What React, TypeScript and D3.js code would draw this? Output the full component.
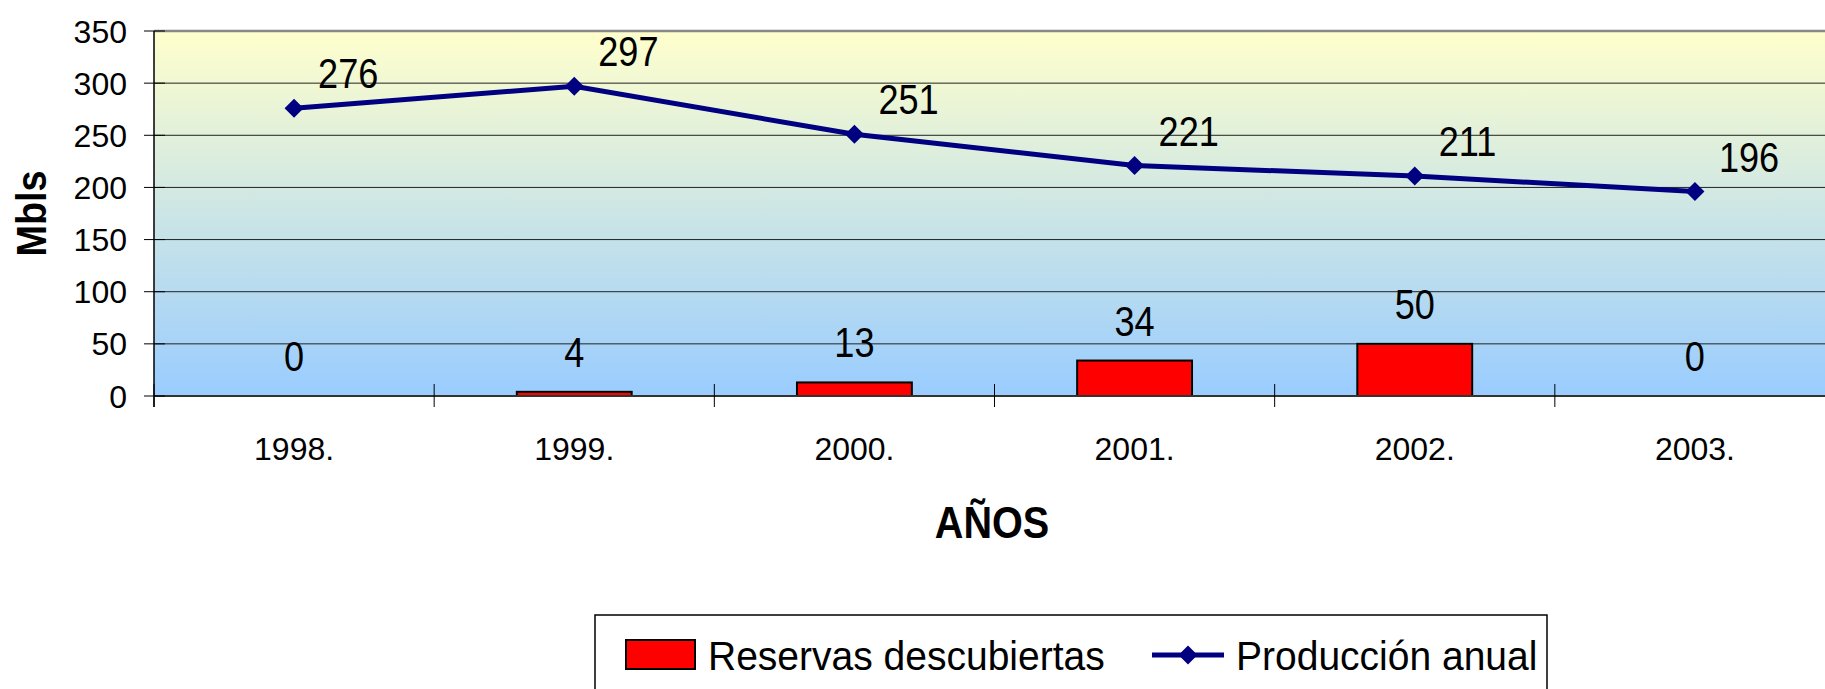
import React from 'react';
import * as d3 from 'd3';

const years = ['1998.', '1999.', '2000.', '2001.', '2002.', '2003.'];
const reservas = [0, 4, 13, 34, 50, 0];
const produccion = [276, 297, 251, 221, 211, 196];
const yTicks = [0, 50, 100, 150, 200, 250, 300, 350];

const W = 1825;
const H = 689;
const M = { left: 154, top: 31, right: -10, bottom: 293 };

const FONT = '"Liberation Sans", Arial, sans-serif';

export default function App() {
  const x = d3.scaleBand<string>()
    .domain(years)
    .range([M.left, W - M.right])
    .paddingInner(0.59)
    .paddingOuter(0.295);
  const band = d3.scaleBand<string>().domain(years).range([M.left, W - M.right]);
  const y = d3.scaleLinear().domain([0, 350]).range([H - M.bottom, M.top]);
  const y0 = y(0);
  const cx = (d: string) => (band(d) ?? 0) + band.bandwidth() / 2;

  const line = d3.line<number>()
    .x((_, i) => cx(years[i]))
    .y((d) => y(d));

  const diamond = (px: number, py: number, r: number) =>
    `M${px},${py - r}L${px + r},${py}L${px},${py + r}L${px - r},${py}Z`;

  return (
    <svg width={W} height={H} style={{ position: 'absolute', left: 0, top: 0, fontFamily: FONT }}>
      <defs>
        <linearGradient id="plotBg" x1="0" y1="0" x2="0" y2="1">
          <stop offset="0%" stopColor="#FFFFCC" />
          <stop offset="100%" stopColor="#99CCFF" />
        </linearGradient>
      </defs>
      <rect x={0} y={0} width={W} height={H} fill="#fff" />

      {/* plot area */}
      <rect x={M.left} y={M.top} width={W - M.right - M.left} height={y0 - M.top} fill="url(#plotBg)" />
      {yTicks.slice(1, -1).map((t) => (
        <line key={t} x1={M.left} x2={W} y1={y(t)} y2={y(t)} stroke="#222" strokeWidth={1} />
      ))}
      <line x1={M.left} x2={W} y1={M.top} y2={M.top} stroke="#888" strokeWidth={2.5} />

      {/* bars */}
      {years.map((yr, i) => (
        <rect
          key={yr}
          x={x(yr)}
          y={y(reservas[i])}
          width={x.bandwidth()}
          height={y0 - y(reservas[i])}
          fill="#FF0000"
          stroke="#000"
          strokeWidth={2}
        />
      ))}

      {/* axes */}
      <line x1={M.left} x2={W} y1={y0} y2={y0} stroke="#333" strokeWidth={2} />
      <line x1={M.left} x2={M.left} y1={M.top} y2={y0 + 11} stroke="#000" strokeWidth={1.5} />
      {yTicks.map((t) => (
        <g key={t}>
          <line x1={M.left - 10} x2={M.left + 11} y1={y(t)} y2={y(t)} stroke="#000" strokeWidth={1} />
          <text x={M.left - 27} y={y(t) + 11.5} textAnchor="end" fontSize={32} fill="#000">
            {t}
          </text>
        </g>
      ))}
      {years.map((yr) => (
        <g key={yr}>
          <line x1={band(yr)} x2={band(yr)} y1={y0 - 12} y2={y0 + 11} stroke="#000" strokeWidth={1} />
          <text x={cx(yr)} y={y0 + 64} textAnchor="middle" fontSize={32} fill="#000">
            {yr}
          </text>
        </g>
      ))}

      {/* bar labels */}
      {years.map((yr, i) => (
        <text
          key={yr}
          transform={`translate(${cx(yr)},${y(reservas[i]) - 25}) scale(0.86,1)`}
          textAnchor="middle"
          fontSize={42}
          fill="#000"
        >
          {reservas[i]}
        </text>
      ))}

      {/* line series */}
      <path d={line(produccion) ?? ''} fill="none" stroke="#000080" strokeWidth={5} />
      {produccion.map((v, i) => (
        <path key={i} d={diamond(cx(years[i]), y(v), 9.5)} fill="#000080" />
      ))}
      {produccion.map((v, i) => (
        <text
          key={i}
          transform={`translate(${cx(years[i]) + 24},${y(v) - 20}) scale(0.86,1)`}
          fontSize={42}
          fill="#000"
        >
          {v}
        </text>
      ))}

      {/* axis titles */}
      <text
        transform={`translate(46,${(M.top + y0) / 2}) rotate(-90) scale(0.9,1)`}
        textAnchor="middle"
        fontSize={42}
        fontWeight="bold"
        fill="#000"
      >
        Mbls
      </text>
      <text
        transform={`translate(992,538) scale(0.88,1)`}
        textAnchor="middle"
        fontSize={45}
        fontWeight="bold"
        fill="#000"
      >
        AÑOS
      </text>

      {/* legend */}
      <rect x={595} y={615} width={952} height={110} fill="#fff" stroke="#000" strokeWidth={1.5} />
      <rect x={626} y={640} width={69} height={29} fill="#FF0000" stroke="#000" strokeWidth={2} />
      <text transform="translate(708,670) scale(0.94,1)" fontSize={41.5} fill="#000">
        Reservas descubiertas
      </text>
      <line x1={1152} x2={1224} y1={655} y2={655} stroke="#000080" strokeWidth={5} />
      <path d={diamond(1188, 655, 9.5)} fill="#000080" />
      <text transform="translate(1236,670) scale(0.94,1)" fontSize={41.5} fill="#000">
        Producción anual
      </text>
    </svg>
  );
}
